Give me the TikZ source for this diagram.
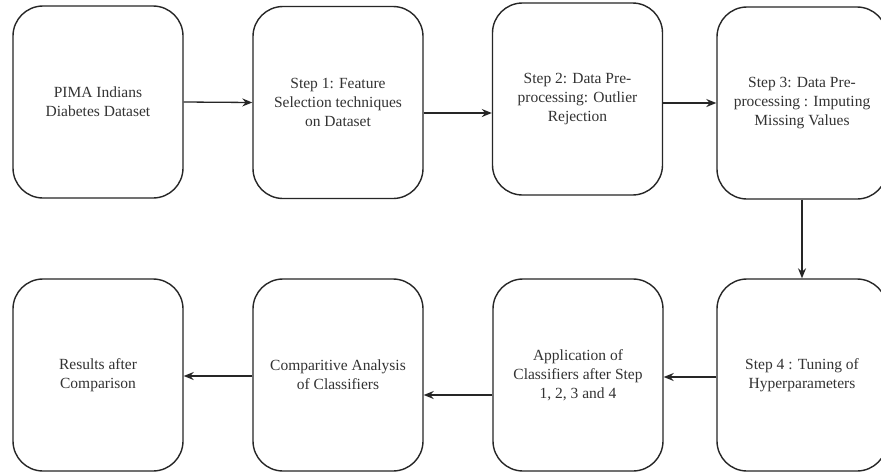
\documentclass[tikz,border=0pt]{standalone}
\usepackage{fontspec}
\setmainfont{Liberation Serif}
\usetikzlibrary{arrows.meta,calc}
\begin{document}
\begin{tikzpicture}[x=1pt,y=-1pt,
  box/.style={draw=black!85, line width=1.4pt, rounded corners=30pt, minimum width=170pt, minimum height=192pt, align=center, inner sep=0pt, font=\fontsize{15.5pt}{19pt}\selectfont, text=black!80},
  arr/.style={draw=black!85, line width=1.3pt, -{Stealth[length=10pt,width=8pt]}}]
\clip (0,0) rectangle (881,472);
\fill[white] (0,0) rectangle (881,472);
\node[box] (b1) at (98,102) {PIMA Indians\\Diabetes Dataset};
\node[box] (b2) at (338,102.5) {Step 1: Feature\\Selection techniques\\on Dataset};
\node[box] (b3) at (577.5,99) {Step 2: Data Pre-\\processing: Outlier\\Rejection};
\node[box] (b4) at (802,103) {Step 3: Data Pre-\\processing : Imputing\\Missing Values};
\node[box] (s4) at (802,375) {Step 4 : Tuning of\\Hyperparameters};
\node[box] (app) at (578,375) {Application of\\Classifiers after Step\\1, 2, 3 and 4};
\node[box] (comp) at (338,375) {Comparitive Analysis\\of Classifiers};
\node[box] (res) at (98,375) {Results after\\Comparison};
\draw[arr] (b1.east) -- (b2.west);
\draw[arr] ([yshift=-10.5pt]b2.east) -- ([yshift=-10.5pt]b2.east -| b3.west);
\draw[arr] ([yshift=-4pt]b3.east) -- ([yshift=-4pt]b3.east -| b4.west);
\draw[arr] (b4.south) -- (s4.north);
\draw[arr] ([yshift=-2pt]s4.west) -- ([yshift=-2pt]s4.west -| app.east);
\draw[arr] ([yshift=-20pt]app.west) -- ([yshift=-20pt]app.west -| comp.east);
\draw[arr] ([yshift=-1pt]comp.west) -- ([yshift=-1pt]comp.west -| res.east);
\end{tikzpicture}
\end{document}
